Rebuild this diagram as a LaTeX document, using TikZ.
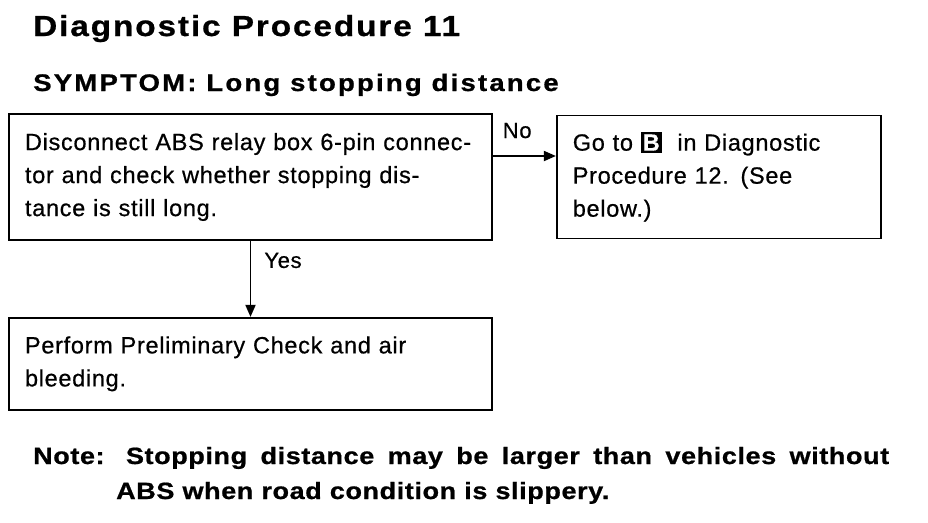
\documentclass[tikz,border=0pt]{standalone}
\usepackage{fontspec}
\usepackage{tikz}
\usetikzlibrary{arrows.meta, positioning}
\newfontfamily\boxfont{Liberation Sans}[LetterSpace=3, WordSpace=1.3, FakeBold=0.6]
\newfontfamily\titlefont{Liberation Sans}[FakeStretch=1.15, LetterSpace=6.5, FakeBold=0.8]
\newfontfamily\symfont{Liberation Sans}[FakeStretch=1.15, LetterSpace=9, FakeBold=0.8]
\newfontfamily\notefont{Liberation Sans}[FakeStretch=1.15, LetterSpace=2.5, FakeBold=0.8]
\newcommand{\keyB}{{\setlength{\fboxsep}{2pt}\colorbox{black}{\textcolor{white}{\bfseries B}}}}
\tikzset{
    block/.style={rectangle, draw=black, line width=1.8pt, inner xsep=16pt, align=left, font=\boxfont\fontsize{23.5}{33}\selectfont},
    arr/.style={-{Triangle[length=12pt, width=10pt]}, line width=1.8pt, draw=black},
    lbl/.style={font=\boxfont\fontsize{22}{24}\selectfont, inner sep=0pt},
    head/.style={font=\titlefont\bfseries\fontsize{29}{32}\selectfont, inner sep=0pt, anchor=base west},
    subhead/.style={font=\symfont\bfseries\fontsize{24}{28}\selectfont, inner sep=0pt, anchor=base west},
    note/.style={font=\notefont\bfseries\fontsize{23.5}{35}\selectfont, inner sep=0pt, anchor=base west, align=left},
}

\begin{document}
\begin{tikzpicture}[x=1pt, y=-1pt, node distance=63pt]
\useasboundingbox (0,0) rectangle (928,522);
% headings
\node[head] (title) at (33,36) {Diagnostic Procedure 11};
\node[subhead] (symptom) at (33,91) {SYMPTOM: Long stopping distance};
% check box
\node[block, text width=451pt, minimum height=126pt] (relay) at (250.5,177) {Disconnect ABS relay box 6-pin connec-\\tor and check whether stopping dis-\\tance is still long.};
% go to B
\node[block, text width=292pt, minimum height=123pt, right=of relay] (goto) {Go to \keyB\ \ in Diagnostic\\Procedure 12. (See\\below.)};
% preliminary check
\node[block, text width=451pt, minimum height=92pt, below=76pt of relay] (prelim) {Perform Preliminary Check and air\\bleeding.};

% No branch
\draw[arr] ([yshift=21pt]relay.east) -- ([yshift=21pt]relay.east -| goto.west) node[lbl, pos=0, anchor=base west, xshift=9pt, yshift=18pt] {No};
% Yes branch
\draw[arr] (relay.south) -- (prelim.north) node[lbl, pos=0, anchor=base west, xshift=13pt, yshift=-27pt] {Yes};

% Note
\node[note] (remark) at (33,499) {\makebox[856pt][s]{Note: Stopping distance may be larger than vehicles without}\\\hspace*{83pt}ABS when road condition is slippery.};
\end{tikzpicture}
\end{document}
